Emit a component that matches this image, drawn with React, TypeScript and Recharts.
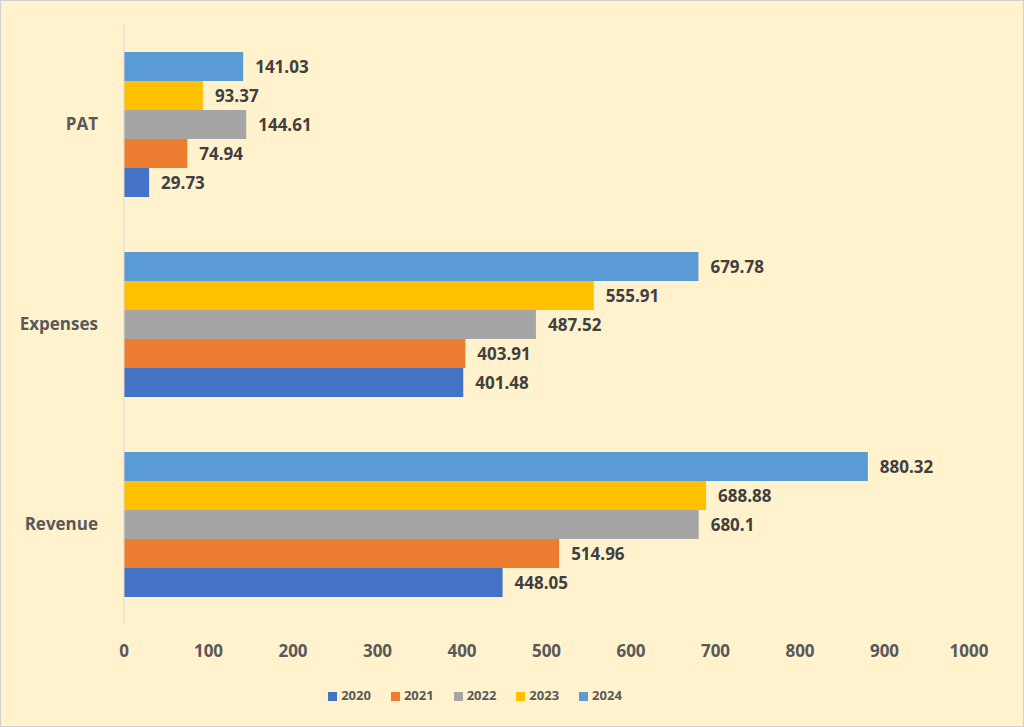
import React from "react";
import { BarChart, Bar, XAxis, YAxis, Legend, LabelList } from "recharts";

const categories = ["PAT", "Expenses", "Revenue"];
const s2024 = [141.03, 679.78, 880.32];
const s2023 = [93.37, 555.91, 688.88];
const s2022 = [144.61, 487.52, 680.1];
const s2021 = [74.94, 403.91, 514.96];
const s2020 = [29.73, 401.48, 448.05];
const xTicks = [0, 100, 200, 300, 400, 500, 600, 700, 800, 900, 1000];

const series = [
  { key: "2024", values: s2024, color: "#5B9BD5" },
  { key: "2023", values: s2023, color: "#FFC000" },
  { key: "2022", values: s2022, color: "#A5A5A5" },
  { key: "2021", values: s2021, color: "#ED7D31" },
  { key: "2020", values: s2020, color: "#4472C4" },
];

const data = categories.map((c, i) => {
  const row: any = { name: c };
  series.forEach((s) => (row[s.key] = s.values[i]));
  return row;
});

const font = "'Open Sans', 'Liberation Sans', sans-serif";

const legendPayload = series.map((s) => ({ value: s.key, type: "square", color: s.color, id: s.key }));

export default function App() {
  return (
    <div style={{ position: "absolute", left: 0, top: 0, width: 1024, height: 727, background: "#FFF2CC", border: "1px solid #d0d0d0", boxSizing: "border-box", fontFamily: font }}>
      <BarChart width={1022} height={725} data={data} layout="vertical" margin={{ top: 23, right: 54, left: 0, bottom: 54 }} barCategoryGap="14%" barGap={0}>
        <XAxis type="number" domain={[0, 1000]} ticks={xTicks} axisLine={false} tickLine={false} tick={{ fill: "#595959", fontSize: 17, fontWeight: 700 }} tickMargin={15} />
        <YAxis type="category" dataKey="name" width={123} axisLine={{ stroke: "#d9d9d9" }} tickLine={false} tick={{ fill: "#595959", fontSize: 17, fontWeight: 700 }} tickMargin={20} />
        <Legend verticalAlign="bottom" iconType="square" iconSize={9} payload={legendPayload as any} wrapperStyle={{ bottom: 22, fontSize: 13, fontWeight: 700, color: "#595959" }}
          formatter={(v: string) => <span style={{ color: "#595959", marginRight: 10 }}>{v}</span>} />
        {series.map((s) => (
          <Bar key={s.key} dataKey={s.key} fill={s.color} isAnimationActive={false}>
            <LabelList dataKey={s.key} position="right" offset={12} style={{ fill: "#404040", fontSize: 17, fontWeight: 700 }} />
          </Bar>
        ))}
      </BarChart>
    </div>
  );
}
